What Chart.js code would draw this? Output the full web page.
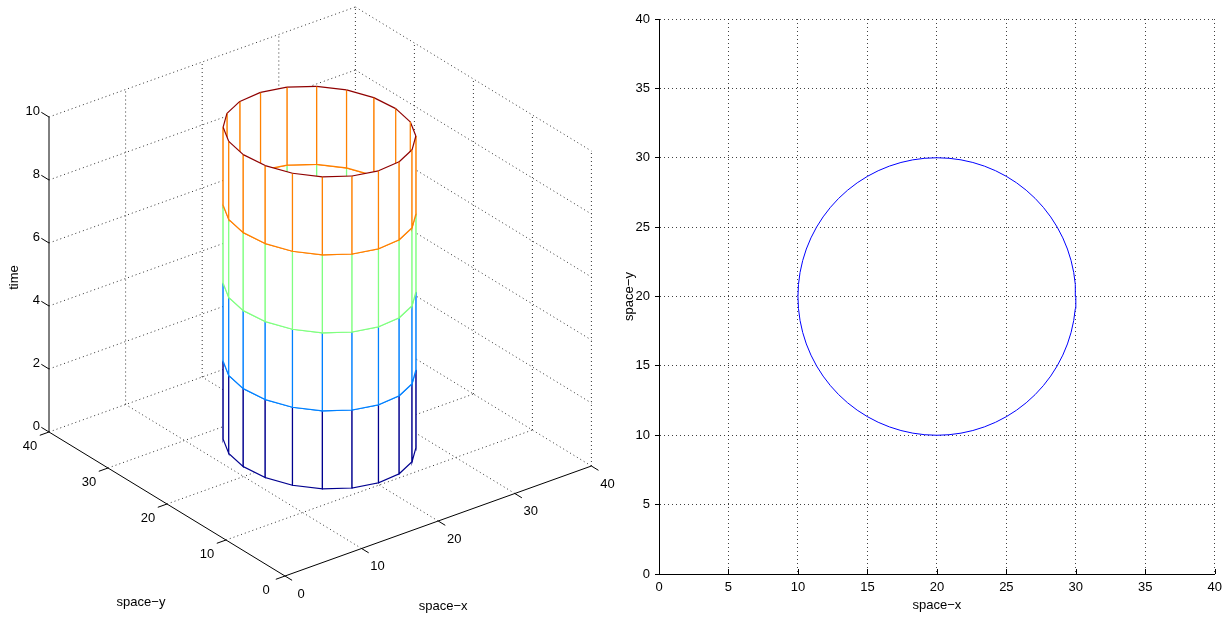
<!DOCTYPE html>
<html>
<head>
<meta charset="utf-8">
<title>front position</title>
<script src="https://cdn.jsdelivr.net/npm/chart.js@4.4.1/dist/chart.umd.min.js"></script>
<style>
  body { margin: 0; background: #fff; }
  #wrap { position: relative; width: 1228px; height: 619px; }
  canvas { position: absolute; top: 0; }
</style>
</head>
<body>
<div id="wrap">
  <canvas id="surface" width="615" height="619" style="left:0"></canvas>
  <canvas id="front" width="613" height="619" style="left:615px"></canvas>
</div>
<script>
// front: circle of radius 10 around (20, 20), same at every time level
const ringTimes = [0, 2.5, 5, 7.5, 10];
const centre = [20, 20];
const radius = 10;
const meshSides = 20;     // cylinder mesh resolution
const curveSteps = 72;    // resolution of the 2d curve

// tick labels
const spaceTicks = [0, 10, 20, 30, 40];
const timeTicks = [0, 2, 4, 6, 8, 10];
const planeTicks = [0, 5, 10, 15, 20, 25, 30, 35, 40];

// jet colormap at each time level
const ringColours = ['rgb(0,0,143)', 'rgb(0,128,255)', 'rgb(128,255,128)', 'rgb(255,128,0)', 'rgb(143,0,0)'];

const FAMILY = '"Liberation Sans", Arial, Helvetica, sans-serif';
const FONT = '13px ' + FAMILY;

// oblique views, pixels per data unit: one for the box, one for the mesh
const boxView = { ox: 285, oy: 576, ex: [7.66, -2.75], ey: [-5.9, -3.6], ez: [0, -31.5] };
const meshView = { ox: 285, oy: 568, ex: [7.625, -2.3], ey: [-5.9, -3.92], ez: [0, -31.2] };

function project(v, x, y, z) {
  return {
    x: v.ox + x * v.ex[0] + y * v.ey[0] + z * v.ez[0],
    y: v.oy + x * v.ex[1] + y * v.ey[1] + z * v.ez[1],
  };
}
const boxPoint = (x, y, z) => project(boxView, x, y, z);

const meshAngle = j => (j % meshSides) / meshSides * 2 * Math.PI;
const ringPoint = (j, z) => project(
  meshView,
  centre[0] + radius * Math.cos(meshAngle(j)),
  centre[1] + radius * Math.sin(meshAngle(j)),
  z
);

const lineSet = (points, colour, width, dash) => ({
  data: points,
  showLine: true,
  pointRadius: 0,
  borderWidth: width,
  borderColor: colour,
  borderDash: dash || [],
  tension: 0,
  fill: false,
});

// one mesh face: white patch, then its edges coloured by time level
function faceSets(j, k) {
  const p00 = ringPoint(j, ringTimes[k]);
  const p10 = ringPoint(j + 1, ringTimes[k]);
  const p11 = ringPoint(j + 1, ringTimes[k + 1]);
  const p01 = ringPoint(j, ringTimes[k + 1]);
  const patch = lineSet([p00, p10, p11, p01, p00], 'rgba(0,0,0,0)', 0);
  patch.fill = 'shape';
  patch.backgroundColor = '#ffffff';
  return [
    patch,
    lineSet([p01, p00, p10, p11], ringColours[k], 1.2),
    lineSet([p11, p01], ringColours[k + 1], 1.2),
  ];
}

// back of the tube goes first so the front faces hide it
const backFaces = [];
const frontFaces = [];
for (let k = 0; k < ringTimes.length - 1; k++) {
  for (let j = 0; j < meshSides; j++) {
    const mid = (j + 0.5) / meshSides * 2 * Math.PI;
    const towardViewer = Math.cos(mid) * meshView.ex[1] + Math.sin(mid) * meshView.ey[1] > 0;
    (towardViewer ? frontFaces : backFaces).push(...faceSets(j, k));
  }
}

// box grid and axes
const boxSets = [];
const dotted = (a, b) => boxSets.push(lineSet([boxPoint(...a), boxPoint(...b)], 'rgba(0,0,0,0.8)', 1, [1, 3]));
const solid = (a, b) => boxSets.push(lineSet([boxPoint(...a), boxPoint(...b)], '#000', 1));

timeTicks.filter(t => t > 0).forEach(t => {
  dotted([0, 40, t], [40, 40, t]);
  dotted([40, 40, t], [40, 0, t]);
});
spaceTicks.forEach(s => {
  if (s > 0) dotted([s, 40, 0], [s, 40, 10]);
  if (s < 40) dotted([40, s, 0], [40, s, 10]);
  if (s > 0) dotted([s, 0, 0], [s, 40, 0]);
  if (s > 0) dotted([0, s, 0], [40, s, 0]);
});
solid([0, 40, 0], [0, 40, 10]);
solid([0, 0, 0], [0, 40, 0]);
solid([0, 0, 0], [40, 0, 0]);
timeTicks.forEach(t => solid([0, 40, t], [0, 41.3, t]));
spaceTicks.forEach(s => {
  solid([0, s, 0], [-1.2, s, 0]);
  solid([s, 0, 0], [s, -1.2, 0]);
});

// chart.js paints the last dataset first
const paintOrder = [...boxSets, ...backFaces, ...frontFaces];

// tick labels and axis titles of the 3d box
const boxLabels = {
  id: 'boxLabels',
  afterDatasetsDraw(chart) {
    const { ctx, scales } = chart;
    const at = (x, y, z) => {
      const p = boxPoint(x, y, z);
      return { x: scales.x.getPixelForValue(p.x), y: scales.y.getPixelForValue(p.y) };
    };
    ctx.save();
    ctx.font = FONT;
    ctx.fillStyle = '#000';
    ctx.textBaseline = 'middle';

    ctx.textAlign = 'right';
    timeTicks.forEach(t => {
      const p = at(0, 40, t);
      ctx.fillText(String(t), p.x - 9, p.y - 6);
    });

    ctx.textAlign = 'center';
    spaceTicks.forEach(s => {
      const py = at(0, s, 0);
      ctx.fillText(String(s), py.x - 19, py.y + 14);
      const px = at(s, 0, 0);
      ctx.fillText(String(s), px.x + 16, px.y + 18);
    });

    const my = at(0, 20, 0);
    ctx.fillText('space\u2212y', my.x - 26, my.y + 98);
    const mx = at(20, 0, 0);
    ctx.fillText('space\u2212x', mx.x + 5, mx.y + 85);

    const mz = at(0, 40, 5);
    ctx.translate(mz.x - 35, mz.y + 3);
    ctx.rotate(-Math.PI / 2);
    ctx.fillText('time', 0, 0);
    ctx.restore();
  },
};

new Chart(document.getElementById('surface'), {
  type: 'scatter',
  data: { datasets: paintOrder.slice().reverse() },
  options: {
    responsive: false,
    animation: false,
    events: [],
    layout: { padding: 0 },
    plugins: { legend: { display: false }, tooltip: { enabled: false } },
    scales: {
      x: { type: 'linear', display: false, min: 0, max: 615 },
      y: { type: 'linear', display: false, min: 0, max: 619, reverse: true },
    },
  },
  plugins: [boxLabels],
});

// front seen from above
const frontCurve = [];
for (let i = 0; i <= curveSteps; i++) {
  const a = i / curveSteps * 2 * Math.PI;
  frontCurve.push({ x: centre[0] + radius * Math.cos(a), y: centre[1] + radius * Math.sin(a) });
}

// x ticks point into the plot
const inwardTicks = {
  id: 'inwardTicks',
  afterDraw(chart) {
    const { ctx, scales, chartArea } = chart;
    ctx.save();
    ctx.strokeStyle = '#000';
    ctx.lineWidth = 1;
    planeTicks.forEach(v => {
      const px = Math.round(scales.x.getPixelForValue(v)) + 0.5;
      ctx.beginPath();
      ctx.moveTo(px, chartArea.bottom);
      ctx.lineTo(px, chartArea.bottom - 5);
      ctx.stroke();
    });
    ctx.restore();
  },
};

const tickFont = { family: FAMILY, size: 13 };

new Chart(document.getElementById('front'), {
  type: 'scatter',
  data: {
    datasets: [{
      data: frontCurve,
      showLine: true,
      pointRadius: 0,
      borderWidth: 1,
      borderColor: '#0000ff',
      fill: false,
    }],
  },
  options: {
    responsive: false,
    animation: false,
    events: [],
    layout: { padding: { top: 19, right: 8, left: 0, bottom: 0 } },
    plugins: { legend: { display: false }, tooltip: { enabled: false } },
    scales: {
      x: {
        type: 'linear',
        min: 0,
        max: 40,
        afterBuildTicks: s => { s.ticks = planeTicks.map(v => ({ value: v })); },
        afterFit: s => { s.height = 45; },
        border: { display: true, color: '#000', width: 1, dash: [1, 3] },
        grid: { color: 'rgba(0,0,0,0.75)', lineWidth: 1, drawTicks: false },
        ticks: { color: '#000', font: tickFont, maxRotation: 0, autoSkip: false, padding: 6 },
        title: { display: true, text: 'space\u2212x', color: '#000', font: tickFont, padding: { top: 0, bottom: 6 } },
      },
      y: {
        type: 'linear',
        min: 0,
        max: 40,
        afterBuildTicks: s => { s.ticks = planeTicks.map(v => ({ value: v })); },
        afterFit: s => { s.width = 44; },
        border: { display: true, color: '#000', width: 1, dash: [1, 3] },
        grid: { color: 'rgba(0,0,0,0.75)', lineWidth: 1, drawTicks: true, tickLength: 4, tickColor: '#000' },
        ticks: { color: '#000', font: tickFont, autoSkip: false, padding: 5 },
        title: { display: true, text: 'space\u2212y', color: '#000', font: tickFont, padding: { top: 7, bottom: 0 } },
      },
    },
  },
  plugins: [inwardTicks],
});
</script>
</body>
</html>
